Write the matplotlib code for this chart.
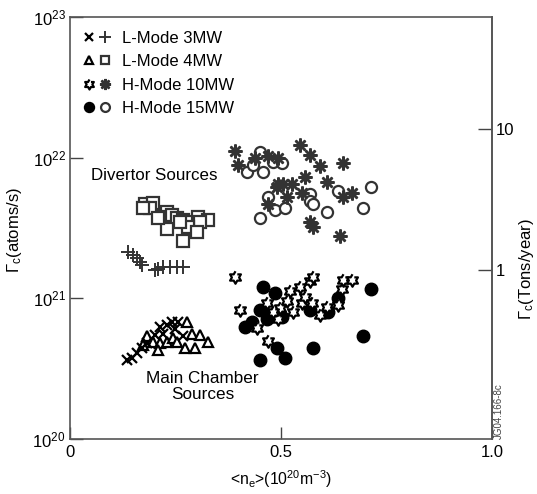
import numpy as np
import matplotlib
matplotlib.use('Agg')
import matplotlib.pyplot as plt
from matplotlib.lines import Line2D
from matplotlib.legend_handler import HandlerTuple

plt.rcParams['font.family'] = ['Liberation Sans', 'DejaVu Sans']
plt.rcParams['mathtext.fontset'] = 'custom'
plt.rcParams['mathtext.rm'] = 'Liberation Sans'
plt.rcParams['mathtext.it'] = 'Liberation Sans:italic'

# data: <ne> (1e20 m^-3) and log10(Gamma_c / atoms s^-1)
lm3_div_ne = [0.137, 0.149, 0.159, 0.166, 0.171, 0.201, 0.209, 0.220, 0.237, 0.254, 0.268]
lm3_div_lg = [21.33, 21.31, 21.29, 21.26, 21.24, 21.20, 21.21, 21.22, 21.22, 21.22, 21.22]

lm3_main_ne = [0.135, 0.147, 0.159, 0.171, 0.182, 0.201, 0.213, 0.230, 0.242, 0.256, 0.249, 0.268, 0.220]
lm3_main_lg = [20.56, 20.58, 20.61, 20.65, 20.68, 20.74, 20.80, 20.81, 20.83, 20.83, 20.78, 20.73, 20.75]

lm4_div_ne = [0.178, 0.197, 0.190, 0.173, 0.230, 0.220, 0.242, 0.254, 0.268, 0.284, 0.303, 0.327,
              0.308, 0.230, 0.280, 0.301, 0.268, 0.209, 0.261]
lm4_div_lg = [21.67, 21.68, 21.64, 21.64, 21.61, 21.58, 21.59, 21.57, 21.56, 21.54, 21.58, 21.56,
              21.54, 21.49, 21.51, 21.47, 21.41, 21.57, 21.54]

lm4_main_ne = [0.182, 0.197, 0.213, 0.230, 0.244, 0.277, 0.289, 0.308, 0.327, 0.296, 0.273, 0.254, 0.173, 0.209]
lm4_main_lg = [20.73, 20.69, 20.68, 20.69, 20.72, 20.83, 20.75, 20.74, 20.69, 20.65, 20.65, 20.69, 20.67, 20.63]

hm10_div_ne = [0.391, 0.398, 0.438, 0.469, 0.493, 0.545, 0.569, 0.592, 0.647, 0.557, 0.609, 0.493,
               0.505, 0.526, 0.514, 0.550, 0.469, 0.569, 0.576, 0.640, 0.647, 0.668, 0.491]
hm10_div_lg = [22.05, 21.95, 22.00, 22.01, 22.00, 22.09, 22.02, 21.94, 21.96, 21.86, 21.83, 21.81,
               21.81, 21.81, 21.72, 21.75, 21.67, 21.54, 21.51, 21.44, 21.72, 21.75, 21.79]

hm15_div_ne = [0.450, 0.419, 0.457, 0.434, 0.481, 0.502, 0.469, 0.486, 0.509, 0.450, 0.569, 0.569,
               0.576, 0.609, 0.635, 0.694, 0.713]
hm15_div_lg = [22.04, 21.90, 21.90, 21.95, 21.97, 21.96, 21.72, 21.63, 21.64, 21.57, 21.74, 21.69,
               21.67, 21.61, 21.76, 21.64, 21.79]

hm10_main_ne = [0.391, 0.403, 0.443, 0.469, 0.467, 0.493, 0.498, 0.521, 0.528, 0.545, 0.550, 0.557,
                0.569, 0.576, 0.573, 0.592, 0.609, 0.635, 0.645, 0.647, 0.668, 0.514, 0.481]
hm10_main_lg = [21.15, 20.92, 20.79, 20.70, 20.97, 20.85, 20.93, 21.05, 20.90, 21.08, 20.97, 21.01,
                21.12, 21.15, 20.97, 20.88, 20.94, 20.95, 21.07, 21.13, 21.13, 20.98, 20.90]

hm15_main_ne = [0.457, 0.486, 0.450, 0.469, 0.502, 0.467, 0.415, 0.431, 0.491, 0.509, 0.450, 0.576,
                0.569, 0.611, 0.635, 0.713, 0.694]
hm15_main_lg = [21.08, 21.04, 20.92, 20.88, 20.87, 20.85, 20.80, 20.83, 20.65, 20.58, 20.56, 20.65,
                20.92, 20.90, 21.00, 21.07, 20.73]

legend_labels = ['L-Mode 3MW', 'L-Mode 4MW', 'H-Mode 10MW', 'H-Mode 15MW']

ATOMS_PER_TON_YEAR = 1.59e21

# hexagram (star of David) outline
ang = np.deg2rad(90 + 30 * np.arange(12))
rad = np.where(np.arange(12) % 2 == 0, 1.0, 1 / np.sqrt(3))
hexagram = np.column_stack([rad * np.cos(ang), rad * np.sin(ang)])

dark = '#333333'
styles = {
    'lm3_main': dict(marker='x', ms=7, mew=1.6, color='black', ls='none'),
    'lm3_div': dict(marker='+', ms=10, mew=1.4, color=dark, ls='none'),
    'lm4_main': dict(marker='^', ms=7, mew=1.6, mfc='white', mec='black', ls='none'),
    'lm4_div': dict(marker='s', ms=8, mew=1.6, mfc='white', mec=dark, ls='none'),
    'hm10_main': dict(marker=hexagram, ms=9, mew=1.6, mfc='white', mec='black', ls='none'),
    'hm10_div': dict(marker=(8, 2, 0), ms=10, mew=1.8, color=dark, ls='none'),
    'hm15_main': dict(marker='o', ms=9, color='black', ls='none'),
    'hm15_div': dict(marker='o', ms=8, mew=1.6, mfc='white', mec=dark, ls='none'),
}

fig = plt.figure(figsize=(5.37, 4.94), dpi=100)
ax = fig.add_axes([0.130, 0.111, 0.786, 0.855])

def lg(v):
    return 10 ** np.array(v)

ax.plot(lm4_div_ne, lg(lm4_div_lg), **styles['lm4_div'])
ax.plot(lm3_div_ne, lg(lm3_div_lg), **styles['lm3_div'])
ax.plot(lm4_main_ne, lg(lm4_main_lg), **styles['lm4_main'])
ax.plot(lm3_main_ne, lg(lm3_main_lg), **styles['lm3_main'])
ax.plot(hm15_div_ne, lg(hm15_div_lg), **styles['hm15_div'])
ax.plot(hm10_div_ne, lg(hm10_div_lg), **styles['hm10_div'])
ax.plot(hm15_main_ne, lg(hm15_main_lg), **styles['hm15_main'])
ax.plot(hm10_main_ne, lg(hm10_main_lg), **styles['hm10_main'])

ax.set_yscale('log')
ax.set_xlim(0, 1.0)
ax.set_ylim(1e20, 1e23)
ax.set_xticks([0, 0.5, 1.0])
ax.set_xticklabels(['0', '0.5', '1.0'])
ax.set_yticks([1e20, 1e21, 1e22, 1e23])
ax.set_yticklabels([r'10$^{20}$', r'10$^{21}$', r'10$^{22}$', r'10$^{23}$'])
ax.minorticks_off()
ax.tick_params(axis='x', direction='in', length=9, width=1, colors='#444444',
               labelcolor='black', labelsize=12, pad=4)
ax.tick_params(axis='y', direction='in', length=9, width=1, colors='#444444',
               labelcolor='black', labelsize=12, pad=3)
for s in ax.spines.values():
    s.set_color('#555555')
    s.set_linewidth(1.2)

ax.set_xlabel(r'<n$_\mathrm{e}$>(10$^{20}$m$^{-3}$)', fontsize=11.3, labelpad=6)
fig.text(15 / 537, 0.534, r'$\Gamma_\mathrm{c}$(atoms/s)', fontsize=12, rotation=90,
         ha='center', va='center')

sec = ax.secondary_yaxis('right', functions=(lambda y: y / ATOMS_PER_TON_YEAR,
                                             lambda t: t * ATOMS_PER_TON_YEAR))
sec.set_yticks([1, 10])
sec.set_yticklabels(['1', '10'])
sec.minorticks_off()
sec.tick_params(direction='in', length=10, width=1, colors='#444444',
                labelcolor='black', labelsize=12, pad=3)
sec.spines['right'].set_color('#555555')
sec.spines['right'].set_linewidth(1.2)
fig.text(526 / 537, 0.455, r'$\Gamma_\mathrm{c}$(Tons/year)', fontsize=12, rotation=90,
         ha='center', va='center')

ax.text(0.200, 10 ** 21.87, 'Divertor Sources', fontsize=12.2, ha='center', va='center')
ax.text(0.315, 10 ** 20.375, 'Main Chamber\nSources', fontsize=12.3, ha='center', va='center',
        linespacing=1.1)
ax.text(1.017, 0.0, 'JG04.166-8c', transform=ax.transAxes, rotation=90,
        fontsize=7, color='#444444', ha='center', va='bottom')

pairs = [('lm3_main', 'lm3_div'), ('lm4_main', 'lm4_div'),
         ('hm10_main', 'hm10_div'), ('hm15_main', 'hm15_div')]
handles = []
for a, b in pairs:
    sa = dict(styles[a]); sb = dict(styles[b])
    sa['ms'] = sa['ms'] * 0.8; sb['ms'] = sb['ms'] * 0.8
    handles.append((Line2D([], [], **sa), Line2D([], [], **sb)))
ax.legend(handles, legend_labels, handler_map={tuple: HandlerTuple(ndivide=None, pad=0.3)},
          loc='upper left', bbox_to_anchor=(0.0, 1.0), frameon=False, fontsize=12,
          handlelength=1.6, handletextpad=0.7, labelspacing=0.5, borderaxespad=0.45)

fig.savefig('out.png', dpi=100)
